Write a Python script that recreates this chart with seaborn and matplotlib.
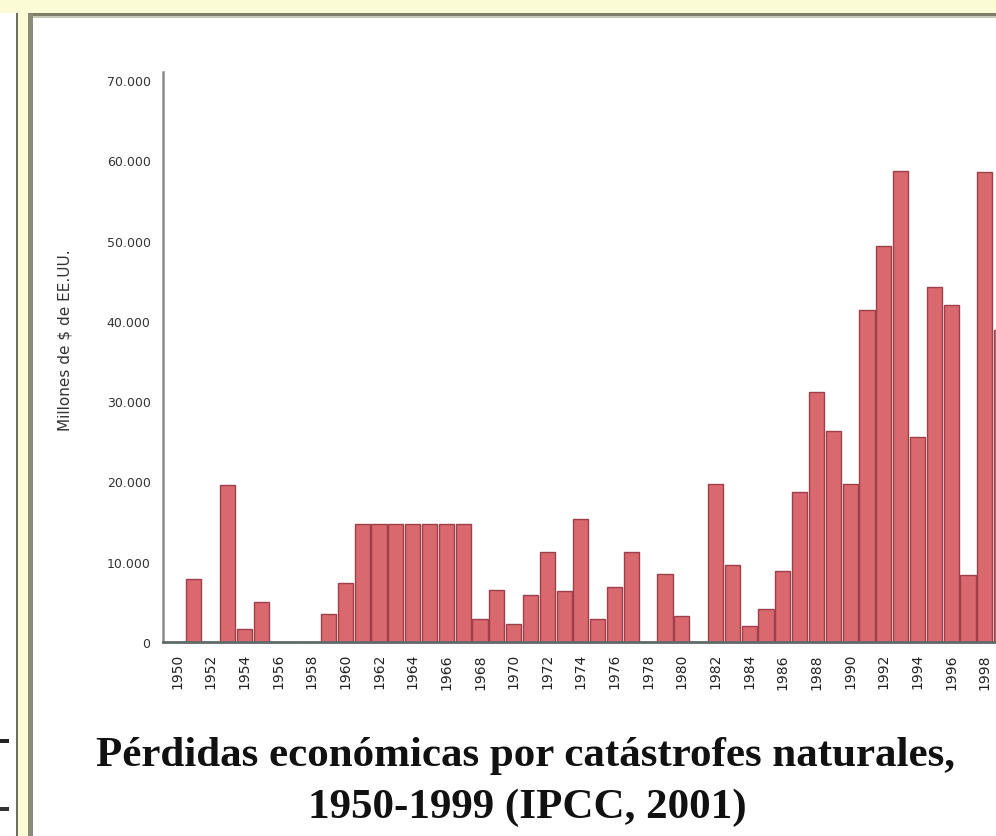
import matplotlib
matplotlib.use("Agg")
import matplotlib.pyplot as plt
from matplotlib.patches import Rectangle
import seaborn as sns
import pandas as pd

# ---------------------------------------------------------------------------
# Data: economic losses from natural catastrophes (millions of US$), 1950-1999
# ---------------------------------------------------------------------------
years = list(range(1950, 2000))
losses = [
    0, 7800, 0, 19600, 1600, 5000, 0, 0, 0, 3500,            # 1950s
    7400, 14700, 14700, 14700, 14700, 14700, 14700, 14700, 2900, 6500,  # 1960s
    2300, 5800, 11200, 6400, 15300, 2900, 6800, 11200, 0, 8500,  # 1970s
    3200, 0, 19700, 9600, 2000, 4100, 8900, 18700, 31200, 26300,  # 1980s
    19700, 41300, 49300, 58700, 25500, 44200, 42000, 8300, 58500, 38900,  # 1990s
]
y_ticks = [0, 10000, 20000, 30000, 40000, 50000, 60000, 70000]
y_label = "Millones de $ de EE.UU."
title_1 = "Pérdidas económicas por catástrofes naturales,"
title_2 = "1950-1999 (IPCC, 2001)"

df = pd.DataFrame({"year": [str(y) for y in years], "loss": losses})

sns.set_style("white")
plt.rcParams["font.family"] = ["DejaVu Sans"]

W, H = 996, 837
fig = plt.figure(figsize=(W / 100, H / 100), dpi=100)
fig.patch.set_facecolor("white")

# slide frame decoration (pixel coordinates)
bg = fig.add_axes([0, 0, 1, 1], zorder=-5)
bg.set_xlim(0, W)
bg.set_ylim(H, 0)
bg.axis("off")
yellow = "#fbfbd6"
bg.add_patch(Rectangle((0, 0), W, 14, color=yellow, lw=0))
bg.add_patch(Rectangle((28, 14), W - 28, 3, color="#7d7d6a", lw=0))
bg.add_patch(Rectangle((28, 17), W - 28, 2, color="#c9c9b8", lw=0))
bg.add_patch(Rectangle((18, 0), 10, H, color=yellow, lw=0))
bg.add_patch(Rectangle((16, 14), 2, H, color="#6e6e5a", lw=0))
bg.add_patch(Rectangle((28, 14), 5, H, color="#8a8a78", lw=0))
bg.add_patch(Rectangle((0, 740), 9, 4, color="#222222", lw=0))
bg.add_patch(Rectangle((0, 808), 9, 4, color="#333333", lw=0))

# chart axes: y-axis at x=163 px, baseline at y=643 px, 1950 centred at x=177
px_per_bar = 16.83
left_px, right_px, base_px, top_px = 163, W, 643, 73
ax = fig.add_axes([left_px / W, (H - base_px) / H,
                   (right_px - left_px) / W, (base_px - top_px) / H])

sns.barplot(data=df, x="year", y="loss", ax=ax, color="#d9686f",
            saturation=1, width=0.9, edgecolor="#9e3f4a", linewidth=1.0)

ax.set_xlim(-(177 - left_px) / px_per_bar, (right_px - 177) / px_per_bar)
ax.set_ylim(0, 71000)

ax.set_yticks(y_ticks)
ax.set_yticklabels([f"{v:,}".replace(",", ".") for v in y_ticks],
                   fontsize=9, color="#333333")
ax.set_xticks(range(0, len(years), 2))
ax.set_xticklabels([str(y) for y in years[::2]], rotation=90,
                   fontsize=10, color="#222222")

ax.tick_params(axis="y", direction="in", length=5, width=1.5,
               color="#8c8c8c", pad=9)
ax.tick_params(axis="x", length=0, pad=8)

for side in ("top", "right"):
    ax.spines[side].set_visible(False)
ax.spines["left"].set_color("#8c8c8c")
ax.spines["left"].set_linewidth(1.8)
ax.spines["bottom"].set_color("#5e6b69")
ax.spines["bottom"].set_linewidth(2)

ax.set_xlabel("")
ax.set_ylabel(y_label, fontsize=11, color="#333333")
ax.yaxis.set_label_coords((72 - left_px) / (right_px - left_px),
                          (base_px - 340) / (base_px - top_px))

serif = ["Liberation Serif", "DejaVu Serif"]
fig.text(525 / W, 1 - 766 / H, title_1, ha="center", va="baseline",
         fontsize=31, fontweight="bold", family=serif, color="#111111")
fig.text(527 / W, 1 - 818 / H, title_2, ha="center", va="baseline",
         fontsize=31, fontweight="bold", family=serif, color="#111111")

fig.savefig("out.png", dpi=100)
plt.close(fig)
